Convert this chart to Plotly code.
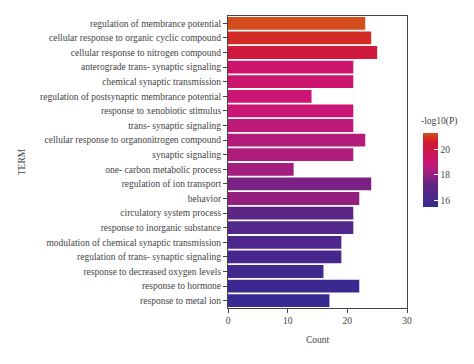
import plotly.graph_objects as go

terms = [
    "regulation of membrance potential",
    "cellular response to organic cyclic compound",
    "cellular response to nitrogen compound",
    "anterograde trans- synaptic signaling",
    "chemical synaptic transmission",
    "regulation of postsynaptic membrance potential",
    "response to xenobiotic stimulus",
    "trans- synaptic signaling",
    "cellular response to organonitrogen compound",
    "synaptic signaling",
    "one- carbon metabolic process",
    "regulation of ion transport",
    "behavior",
    "circulatory system process",
    "response to inorganic substance",
    "modulation of chemical synaptic transmission",
    "regulation of trans- synaptic signaling",
    "response to decreased oxygen levels",
    "response to hormone",
    "response to metal ion",
]
counts = [23, 24, 25, 21, 21, 14, 21, 21, 23, 21, 11, 24, 22, 21, 21, 19, 19, 16, 22, 17]
neglogp = [21.3, 20.8, 20.3, 19.3, 19.2, 19.1, 19.0, 18.7, 18.5, 18.4, 18.2, 17.6, 18.0,
           17.0, 16.6, 16.4, 16.2, 15.9, 15.7, 15.5]
cbar_ticks = [16, 18, 20]
cbar_title = "-log10(P)"

colorscale = [
    [0.0, "#372a90"],
    [0.3, "#622586"],
    [0.5, "#b01c7c"],
    [0.62, "#cc1574"],
    [0.75, "#cc1650"],
    [0.88, "#d11c2c"],
    [1.0, "#d24c1c"],
]

font_family = "Liberation Serif, DejaVu Serif, serif"

fig = go.Figure(go.Bar(
    x=counts,
    y=terms,
    orientation="h",
    marker=dict(
        color=neglogp,
        colorscale=colorscale,
        cmin=15.5,
        cmax=21.3,
        line=dict(width=0),
        colorbar=dict(
            tickvals=cbar_ticks,
            ticks="inside",
            tickcolor="white",
            ticklen=4,
            tickfont=dict(size=9.5, color="#444"),
            thickness=15,
            lenmode="pixels",
            len=74,
            x=1.089,
            xanchor="left",
            y=0.473,
            yanchor="middle",
            outlinewidth=0,
            xpad=0,
            ypad=0,
        ),
    ),
))

fig.add_annotation(
    text=cbar_title,
    xref="paper", yref="paper",
    x=1.067, y=0.637,
    xanchor="left", yanchor="middle",
    showarrow=False,
    font=dict(size=9.5, color="#444"),
)

fig.update_layout(
    width=466,
    height=356,
    margin=dict(l=220, r=67, t=8, b=56, autoexpand=False),
    paper_bgcolor="white",
    plot_bgcolor="white",
    bargap=0.12,
    font=dict(family=font_family, size=9.5, color="#444"),
    showlegend=False,
)
fig.update_xaxes(
    range=[0, 30],
    tickvals=[0, 10, 20, 30],
    ticks="outside",
    ticklen=4,
    tickcolor="#444",
    showline=True,
    linecolor="#444",
    linewidth=1,
    mirror=True,
    showgrid=False,
    zeroline=False,
    title=dict(text="Count", font=dict(size=9.5, color="#444"), standoff=10),
    tickfont=dict(size=9.5, color="#444"),
)
fig.update_yaxes(
    categoryorder="array",
    categoryarray=terms,
    autorange="reversed",
    ticks="outside",
    ticklen=4,
    tickcolor="#444",
    showline=True,
    linecolor="#444",
    linewidth=1,
    mirror=True,
    showgrid=False,
    title=dict(text="TERM", font=dict(size=9.5, color="#444"), standoff=12),
    tickfont=dict(size=9.5, color="#444"),
)

fig.write_html("out.html")
